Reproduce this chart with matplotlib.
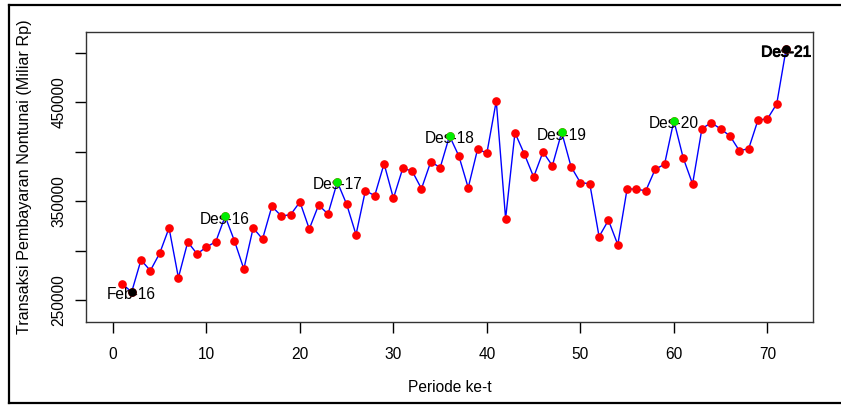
import numpy as np
import matplotlib
matplotlib.use("Agg")
import matplotlib.pyplot as plt
from matplotlib.lines import Line2D
import matplotlib.patheffects as pe

plt.rcParams['font.family'] = ['Liberation Sans', 'DejaVu Sans']

# nilai transaksi per periode (Miliar Rp), periode 1..72 (Jan-16 .. Des-21)
periode = np.arange(1, 73)
nilai = [266200, 258100, 290500, 279700, 297300, 322900, 272600, 308700, 296600, 303600,
         309000, 334700, 309700, 281400, 322900, 311700, 344800, 335000, 336300, 349200,
         321900, 346100, 337000, 369400, 346800, 316100, 360600, 355600, 387900, 352900,
         383300, 380500, 362600, 390000, 383900, 416000, 395700, 363600, 402500, 398800,
         451400, 332300, 419300, 397800, 374500, 399800, 385900, 419700, 384900, 368700,
         367700, 314100, 330700, 306000, 362600, 362000, 360600, 382300, 387300, 431500,
         393700, 367400, 423400, 429400, 423100, 416000, 401100, 403100, 432200, 433200,
         448400, 503700]

# titik yang diberi label
label_hijau = [12, 24, 36, 48, 60]
teks_hijau = ["Des-16", "Des-17", "Des-18", "Des-19", "Des-20"]
label_hitam = [2, 72]
teks_hitam = ["Feb-16", "Des-21"]

xticks = [0, 10, 20, 30, 40, 50, 60, 70]
yticks = [250000, 300000, 350000, 400000, 450000, 500000]
ytick_labels = ["250000", "", "350000", "", "450000", ""]

fig = plt.figure(figsize=(8.41, 4.05), dpi=100)
ax = fig.add_axes([0.1023, 0.2049, 0.8644, 0.7161])

nilai = np.array(nilai)
ax.plot(periode, nilai, color="#0000ff", lw=1.0, zorder=2)
ax.plot(periode, nilai, "o", color="#ff0000", ms=5.2, mec="#ff0000", zorder=4)


def tulis(p, t, tebal=False):
    txt = ax.annotate(t, (p, nilai[p - 1]), xytext=(0, -2), textcoords="offset points",
                      ha="center", va="center", fontsize=11.2, zorder=3)
    if tebal:
        txt.set_path_effects([pe.withStroke(linewidth=0.7, foreground="black")])


for p, t in zip(label_hijau, teks_hijau):
    tulis(p, t)
    ax.plot(p, nilai[p - 1], "o", color="#00ee00", ms=5.2, zorder=5)

for p, t in zip(label_hitam, teks_hitam):
    tulis(p, t, t == "Des-21")
    ax.plot(p, nilai[p - 1], "o", color="black", ms=5.2, zorder=5)

ax.set_xlim(-2.88, 74.88)
ax.set_ylim(227700, 521200)
ax.set_xticks(xticks)
ax.set_yticks(yticks)
ax.set_yticklabels(ytick_labels, rotation=90, va="center")
ax.tick_params(axis="both", direction="out", length=8, width=1, labelsize=11.2, colors="black")
ax.tick_params(axis="y", pad=6)
ax.tick_params(axis="x", pad=10)
for s in ax.spines.values():
    s.set_color("#333333")
    s.set_linewidth(1.0)

ax.set_xlabel("Periode ke-t", fontsize=11.2, labelpad=13)
ax.set_ylabel("Transaksi Pembayaran Nontunai (Miliar Rp)", fontsize=11.6, labelpad=14)

# bingkai luar
W, H = 841, 405
fig.add_artist(Line2D([9 / W, 9 / W], [2 / H, 400 / H], color="black", lw=1.6))
fig.add_artist(Line2D([9 / W, 1.0], [400 / H, 400 / H], color="black", lw=1.6))
fig.add_artist(Line2D([9 / W, 1.0], [2 / H, 2 / H], color="black", lw=1.6))

fig.savefig("out.png", dpi=100)
